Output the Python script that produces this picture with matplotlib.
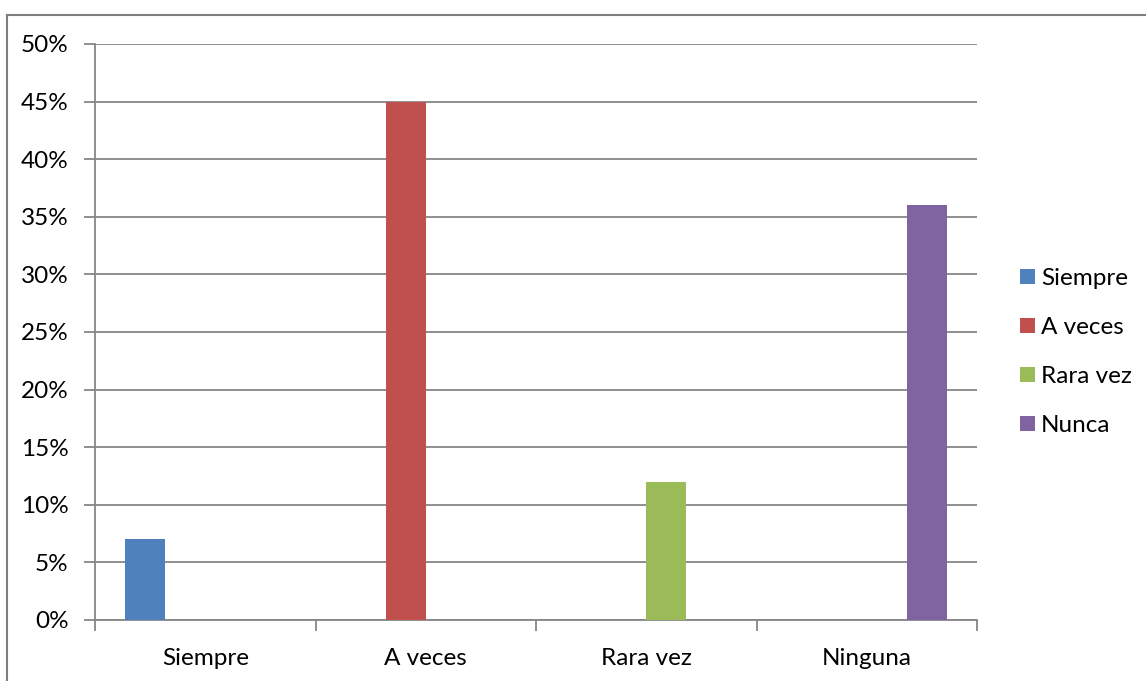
import matplotlib
matplotlib.use("Agg")
import matplotlib.pyplot as plt
from matplotlib.lines import Line2D
from matplotlib.patches import Patch
from matplotlib.ticker import FuncFormatter, MultipleLocator

plt.rcParams['font.family'] = ['Lato', 'DejaVu Sans']

# categories on the x axis and the four series (one bar each)
categories = ["Siempre", "A veces", "Rara vez", "Ninguna"]
series_names = ["Siempre", "A veces", "Rara vez", "Nunca"]
siempre = [7, 0, 0, 0]
a_veces = [0, 45, 0, 0]
rara_vez = [0, 0, 12, 0]
nunca = [0, 0, 0, 36]
series_values = [siempre, a_veces, rara_vez, nunca]
colors = ["#4F81BD", "#C0504D", "#9BBB59", "#8064A2"]

W, H = 1146, 681
fs = 17.5
fig = plt.figure(figsize=(W / 100, H / 100), dpi=100)
ax = fig.add_axes([95 / W, (H - 620) / H, (977 - 95) / W, (620 - 44) / H])

grid_c = "#868686"
n = len(series_values)
gap = 1.5
w = 1 / (n + gap)
for i, (vals, col) in enumerate(zip(series_values, colors)):
    xs = [c - 0.5 + gap / 2 * w + (i + 0.5) * w for c in range(len(categories))]
    ax.bar(xs, vals, width=w, color=col, zorder=3)

ax.set_xlim(-0.5, len(categories) - 0.5)
ax.set_ylim(0, 50)
ax.yaxis.set_major_locator(MultipleLocator(5))
ax.yaxis.set_major_formatter(FuncFormatter(lambda v, p: f"{v:.0f}%"))
ax.grid(axis="y", color=grid_c, lw=1.3, zorder=0)

ax.set_xticks(range(len(categories)))
ax.set_xticklabels(categories)
ax.set_xticks([c - 0.5 for c in range(len(categories) + 1)], minor=True)
ax.tick_params(axis="x", which="major", length=0, pad=20, labelsize=fs)
ax.tick_params(axis="x", which="minor", length=8, width=1.3, color=grid_c, direction="out")
ax.tick_params(axis="y", length=8, width=1.3, color=grid_c, pad=11, labelsize=fs)

for s in ["top", "right"]:
    ax.spines[s].set_visible(False)
for s in ["left", "bottom"]:
    ax.spines[s].set_color(grid_c)
    ax.spines[s].set_linewidth(1.3)

handles = [Patch(facecolor=c, edgecolor="none") for c in colors]
fig.legend(handles, series_names, loc="center left",
           bbox_to_anchor=(1001 / W, (H - 352) / H), frameon=False,
           fontsize=fs, handlelength=0.6, handleheight=0.6,
           handletextpad=0.25, labelspacing=1.15, borderpad=0.3)

# outer frame: top and left edges only
fig.add_artist(Line2D([7 / W, 1], [(H - 15) / H] * 2, color="#7f7f7f", lw=1.5))
fig.add_artist(Line2D([7 / W] * 2, [0, (H - 15) / H], color="#7f7f7f", lw=1.5))

fig.savefig("out.png", dpi=100)
